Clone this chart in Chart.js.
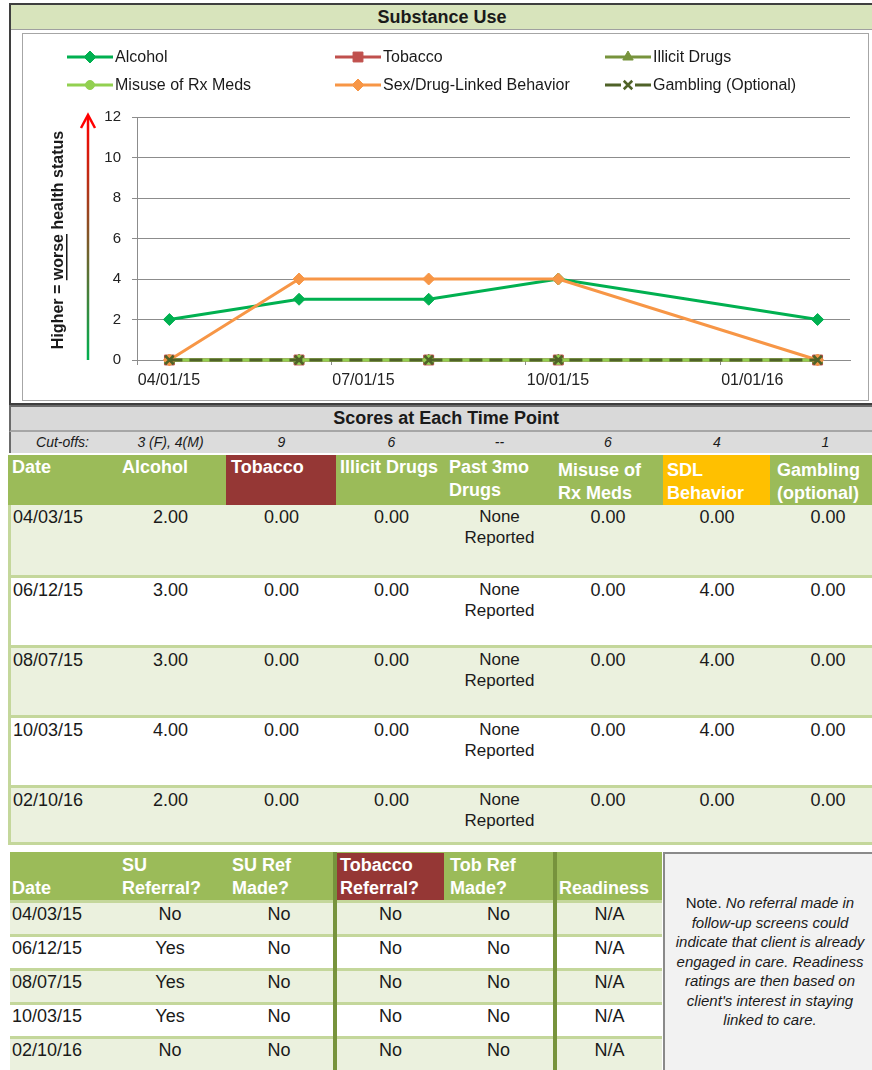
<!DOCTYPE html>
<html>
<head>
<meta charset="utf-8">
<script src="https://cdn.jsdelivr.net/npm/chart.js@4.4.1/dist/chart.umd.min.js"></script>
<style>
  body { margin: 0; width: 872px; height: 1070px; overflow: hidden; position: relative; background: #fff;
         font-family: "Liberation Sans", Arial, sans-serif; color: #1a1a1a; }
  .abs { position: absolute; box-sizing: border-box; white-space: nowrap; }
  .hd { font-weight: bold; font-size: 18px; color: #fff; line-height: 23px; }
  .val { font-size: 18px; line-height: 22px; text-align: center; }
  .leg { position: absolute; display: flex; align-items: center; font-size: 16px; color: #1a1a1a; }
  .leg canvas { margin-right: 2px; }
  #chartCanvas { position: absolute; left: 23px; top: 34px; }
</style>
</head>
<body>
<script>
// ---- data ----
const dates = ['04/03/15', '06/12/15', '08/07/15', '10/03/15', '02/10/16'];
const alcohol = [2, 3, 3, 4, 2];
const tobacco = [0, 0, 0, 0, 0];
const illicitDrugs = [0, 0, 0, 0, 0];
const rxMisuse = [0, 0, 0, 0, 0];
const sdlBehavior = [0, 4, 4, 4, 0];
const gambling = [0, 0, 0, 0, 0];
const past3moDrugs = ['None Reported', 'None Reported', 'None Reported', 'None Reported', 'None Reported'];
const cutoffs = ['3 (F), 4(M)', '9', '6', '--', '6', '4', '1'];
const xTickLabels = ['04/01/15', '07/01/15', '10/01/15', '01/01/16'];
const suReferral = ['No', 'Yes', 'Yes', 'Yes', 'No'];
const suRefMade = ['No', 'No', 'No', 'No', 'No'];
const tobReferral = ['No', 'No', 'No', 'No', 'No'];
const tobRefMade = ['No', 'No', 'No', 'No', 'No'];
const readiness = ['N/A', 'N/A', 'N/A', 'N/A', 'N/A'];

const FONT = '"Liberation Sans", Arial, sans-serif';

// months since April 2015 (the chart uses a month based date axis)
function monthIndex(s) {
  const p = s.split('/').map(Number);
  return (p[2] - 15) * 12 + (p[0] - 4);
}

function box(x, y, w, h, css, html) {
  const d = document.createElement('div');
  d.className = 'abs';
  Object.assign(d.style, { left: x + 'px', top: y + 'px', width: w + 'px', height: h + 'px' }, css || {});
  if (html != null) d.innerHTML = html;
  document.body.appendChild(d);
  return d;
}

// ---- chart frame ----
box(9, 3, 880, 402, { border: '2px solid #3f3f3f' });
box(11, 5, 870, 25, { background: '#D8E4BC', borderBottom: '1px solid #a0a0a0', textAlign: 'center',
  paddingRight: '8px', fontWeight: 'bold', fontSize: '18px', lineHeight: '25px' }, 'Substance Use');
box(22, 33, 847, 368, { border: '1px solid #a6a6a6', background: '#fff' });

const canvas = document.createElement('canvas');
canvas.id = 'chartCanvas';
canvas.width = 845;
canvas.height = 365;
document.body.appendChild(canvas);

const series = [
  { label: 'Alcohol', data: alcohol, color: '#00B050', style: 'rectRot', r: 6 },
  { label: 'Tobacco', data: tobacco, color: '#C0504D', style: 'rect', r: 7 },
  { label: 'Illicit Drugs', data: illicitDrugs, color: '#77933C', style: 'triangle', r: 6 },
  { label: 'Misuse of Rx Meds', data: rxMisuse, color: '#92D050', style: 'circle', r: 4.5 },
  { label: 'Sex/Drug-Linked Behavior', data: sdlBehavior, color: '#F79646', style: 'rectRot', r: 6 },
  { label: 'Gambling (Optional)', data: gambling, color: '#4F6228', style: 'crossRot', r: 6, dash: [13, 7] }
];

const yTitlePlugin = {
  id: 'yTitle',
  afterDraw(chart) {
    const ctx = chart.ctx, a = chart.chartArea;
    const ax = 65;
    ctx.save();
    const g = ctx.createLinearGradient(0, a.bottom, 0, a.top);
    g.addColorStop(0, '#00B050');
    g.addColorStop(1, '#FF0000');
    ctx.strokeStyle = g;
    ctx.lineWidth = 2.5;
    ctx.beginPath();
    ctx.moveTo(ax, a.bottom);
    ctx.lineTo(ax, a.top - 1);
    ctx.stroke();
    ctx.strokeStyle = '#FF0000';
    ctx.beginPath();
    ctx.moveTo(ax - 7, a.top + 11);
    ctx.lineTo(ax, a.top - 2);
    ctx.lineTo(ax + 7, a.top + 11);
    ctx.stroke();

    // rotated title with "worse" underlined
    const parts = ['Higher = ', 'worse', ' health status'];
    ctx.font = 'bold 16px ' + FONT;
    ctx.fillStyle = '#1a1a1a';
    const widths = parts.map(p => ctx.measureText(p).width);
    const total = widths.reduce((s, w) => s + w, 0);
    ctx.translate(36, 206);
    ctx.rotate(-Math.PI / 2);
    ctx.textBaseline = 'middle';
    let x = -total / 2;
    parts.forEach((p, i) => {
      ctx.fillText(p, x, 0);
      if (i === 1) {
        ctx.fillRect(x, 7, widths[i], 1.5);
      }
      x += widths[i];
    });
    ctx.restore();
  }
};

const chart = new Chart(canvas, {
  type: 'line',
  data: {
    datasets: series.map((s, i) => ({
      label: s.label,
      data: dates.map((d, j) => ({ x: monthIndex(d), y: s.data[j] })),
      borderColor: s.color,
      backgroundColor: s.color,
      pointBorderColor: s.color,
      pointBackgroundColor: s.color,
      pointStyle: s.style,
      pointRadius: s.r,
      pointBorderWidth: s.style === 'crossRot' ? 2.5 : 1,
      borderWidth: 3,
      borderDash: s.dash || [],
      tension: 0,
      clip: false,
      order: series.length - i
    }))
  },
  options: {
    responsive: false,
    animation: false,
    layout: { padding: { top: 83, right: 18, left: 0, bottom: 0 } },
    plugins: { legend: { display: false }, tooltip: { enabled: false } },
    scales: {
      x: {
        type: 'linear',
        min: -0.5,
        max: 10.5,
        afterBuildTicks: (s) => {
          s.ticks = xTickLabels.map(l => ({ value: monthIndex(l) - 0.5 }));
        },
        afterFit: (s) => { s.height = 39; },
        grid: { drawOnChartArea: false, drawTicks: true, tickLength: 5, color: '#8c8c8c' },
        border: { color: '#8c8c8c' },
        ticks: {
          callback: (v, i) => xTickLabels[i],
          labelOffset: 32,
          padding: 6,
          maxRotation: 0,
          autoSkip: false,
          color: '#222',
          font: { size: 16, family: FONT }
        }
      },
      y: {
        min: 0,
        max: 12,
        afterFit: (s) => { s.width = 114; },
        grid: { color: '#8c8c8c', tickLength: 5 },
        border: { color: '#8c8c8c' },
        ticks: { stepSize: 2, padding: 11, color: '#222', font: { size: 15, family: FONT } }
      }
    }
  },
  plugins: [yTitlePlugin]
});

// ---- legend (3 columns x 2 rows) ----
const legCols = [67, 335, 605];
const legRows = [57, 85];
chart.data.datasets.forEach((ds, i) => {
  const item = document.createElement('div');
  item.className = 'leg';
  item.style.left = legCols[i % 3] + 'px';
  item.style.top = (legRows[Math.floor(i / 3)] - 9) + 'px';
  item.style.height = '18px';
  const c = document.createElement('canvas');
  c.width = 46; c.height = 18;
  const ctx = c.getContext('2d');
  ctx.strokeStyle = ds.borderColor;
  ctx.fillStyle = ds.borderColor;
  ctx.lineWidth = 3;
  ctx.beginPath(); ctx.moveTo(0, 9); ctx.lineTo(46, 9); ctx.stroke();
  ctx.lineWidth = ds.pointBorderWidth;
  if (ds.pointStyle === 'crossRot') {
    ctx.fillStyle = '#fff';
    ctx.fillRect(16, 2, 14, 14);
    ctx.fillStyle = ds.borderColor;
  }
  if (Chart.helpers && Chart.helpers.drawPoint) {
    Chart.helpers.drawPoint(ctx, { pointStyle: ds.pointStyle, radius: ds.pointRadius, borderWidth: ds.pointBorderWidth, rotation: 0 }, 23, 9);
  }
  item.appendChild(c);
  const t = document.createElement('span');
  t.textContent = ds.label;
  item.appendChild(t);
  document.body.appendChild(item);
});

// ---- scores table ----
box(9, 405, 872, 27, { background: '#D9D9D9', borderTop: '2px solid #6b6b6b', borderLeft: '2px solid #6b6b6b',
  borderBottom: '2px solid #a6a6a6', textAlign: 'center', fontWeight: 'bold', fontSize: '18px', lineHeight: '23px' },
  'Scores at Each Time Point');
box(9, 432, 872, 21, { background: '#DCDCDC', borderLeft: '2px solid #6b6b6b' });

const cols1 = [10, 115, 226, 337, 446, 553, 663, 771, 880];
const cutStyle = { fontStyle: 'italic', fontSize: '14px', lineHeight: '21px', textAlign: 'center' };
box(10, 432, 105, 21, cutStyle, 'Cut-offs:');
cutoffs.forEach((c, i) => box(cols1[i + 1], 432, cols1[i + 2] - cols1[i + 1], 21, cutStyle, c));

box(8, 455, 872, 50, { background: '#9BBB59' });
box(226, 455, 110, 50, { background: '#953735' });
box(663, 455, 107, 50, { background: '#FFC000' });
const head1 = ['Date', 'Alcohol', 'Tobacco', 'Illicit Drugs', 'Past 3mo<br>Drugs', 'Misuse of<br>Rx Meds', 'SDL<br>Behavior', 'Gambling<br>(optional)'];
const headPad1 = [2, 7, 5, 3, 3, 5, 4, 6];
const headTop1 = [1, 1, 1, 1, 1, 4, 4, 4];
head1.forEach((h, i) => {
  const d = box(cols1[i] + headPad1[i], 455 + headTop1[i], cols1[i + 1] - cols1[i], 48, {}, h);
  d.classList.add('hd');
});

const rowTops1 = [505, 575, 645, 715, 785];
const rowH1 = [70, 70, 70, 70, 57];
dates.forEach((d, r) => {
  const top = rowTops1[r];
  box(8, top, 872, rowH1[r], { background: r % 2 ? '#FFFFFF' : '#EBF1DE', borderTop: r ? '3px solid #C4D79B' : 'none' });
  const tt = top + (r ? 3 : 0) + 1;
  box(13, tt, 100, 22, { fontSize: '18px', lineHeight: '22px' }, d);
  const nums = [alcohol[r], tobacco[r], illicitDrugs[r], null, rxMisuse[r], sdlBehavior[r], gambling[r]];
  nums.forEach((v, i) => {
    const x = cols1[i + 1], w = cols1[i + 2] - cols1[i + 1];
    if (v === null) {
      box(x, tt, w, 44, { fontSize: '17px', lineHeight: '21px', textAlign: 'center', whiteSpace: 'normal' },
        past3moDrugs[r].replace(' ', '<br>'));
    } else {
      box(x, tt, i === 6 ? 114 : w, 22, {}, v.toFixed(2)).classList.add('val');
    }
  });
});
box(8, 842, 872, 3, { background: '#C4D79B' });
box(8, 505, 3, 340, { background: '#C4D79B' });

// ---- referral table ----
box(10, 852, 652, 48, { background: '#9BBB59' });
box(337, 853, 107, 47, { background: '#953735' });
const head2 = ['Date', 'SU<br>Referral?', 'SU Ref<br>Made?', 'Tobacco<br>Referral?', 'Tob Ref<br>Made?', 'Readiness'];
const headX2 = [12, 122, 232, 340, 450, 559];
head2.forEach((h, i) => {
  const d = box(headX2[i], 852, 105, 48, { display: 'flex', flexDirection: 'column', justifyContent: 'flex-end' }, '<div>' + h + '</div>');
  d.classList.add('hd');
});
const cells2 = [[115, 225], [225, 333], [337, 444], [444, 553], [557, 662]];
dates.forEach((d, r) => {
  const top = 900 + r * 34;
  box(10, top, 652, 34, { background: r % 2 ? '#FFFFFF' : '#EBF1DE', borderTop: '3px solid #C4D79B' });
  box(12, top + 3, 100, 22, { fontSize: '18px', lineHeight: '22px' }, d);
  [suReferral[r], suRefMade[r], tobReferral[r], tobRefMade[r], readiness[r]].forEach((v, i) => {
    box(cells2[i][0], top + 3, cells2[i][1] - cells2[i][0], 22, {}, v).classList.add('val');
  });
});
box(333, 852, 4, 218, { background: '#77933C' });
box(553, 852, 4, 218, { background: '#77933C' });

box(663, 852, 215, 222, { background: '#F2F2F2', border: '2px solid #8a8a8a' });
box(664, 893, 212, 150, { fontSize: '15px', lineHeight: '19.5px', textAlign: 'center', fontStyle: 'italic' },
  '<span style="font-style:normal">Note.</span> No referral made in<br>follow-up screens could<br>indicate that client is already<br>' +
  'engaged in care. Readiness<br>ratings are then based on<br>client\'s interest in staying<br>linked to care.');
</script>
</body>
</html>
